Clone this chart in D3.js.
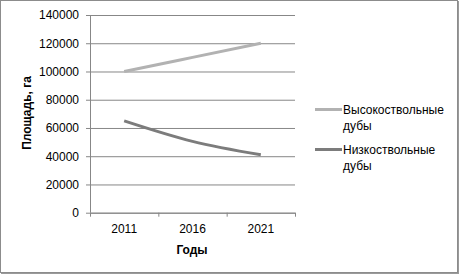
<!DOCTYPE html>
<html>
<head>
<meta charset="utf-8">
<script src="https://d3js.org/d3.v7.min.js"></script>
<style>
  body { margin: 0; background: #fff; }
  text { font-family: "Liberation Sans", Arial, sans-serif; }
</style>
</head>
<body>
<svg width="460" height="276"></svg>
<script>
// data
const years = ["2011", "2016", "2021"];
const highTrunk = [100000, 110000, 120000];
const lowTrunk = [65000, 50500, 41000];
const yTicks = [0, 20000, 40000, 60000, 80000, 100000, 120000, 140000];
const seriesNames = ["Высокоствольные дубы", "Низкоствольные дубы"];
const seriesColors = ["#b2b2b2", "#7c7c7c"];

const svg = d3.select("svg");

// outer border with a little shadow on right/bottom
svg.append("rect")
  .attr("x", 0.5).attr("y", 0.5)
  .attr("width", 457).attr("height", 272)
  .attr("fill", "#fff").attr("stroke", "#8c8c8c").attr("stroke-width", 1);
svg.append("line").attr("x1", 458.5).attr("x2", 458.5).attr("y1", 1).attr("y2", 274)
  .attr("stroke", "#9a9a9a");
svg.append("line").attr("x1", 1).attr("x2", 459).attr("y1", 273.5).attr("y2", 273.5)
  .attr("stroke", "#9a9a9a");

const plotL = 90, plotR = 295, plotT = 15, plotB = 212.7;

const x = d3.scaleBand().domain(years).range([plotL, plotR]).padding(0);
const y = d3.scaleLinear().domain([0, 140000]).range([plotB, plotT]);

// grid + y ticks
const gy = svg.append("g").attr("transform", "translate(" + plotL + ",0)")
  .call(d3.axisLeft(y).tickValues(yTicks).tickSize(-(plotR - plotL)).tickSizeOuter(0).tickPadding(8).tickFormat(d3.format("d")));
gy.select(".domain").remove();
gy.selectAll(".tick line").attr("stroke", "#878787").attr("x1", -4);
gy.selectAll(".tick text").attr("font-size", "12px").attr("fill", "#000")
  .attr("font-family", "Liberation Sans, Arial, sans-serif").attr("x", -11);

// y axis line
svg.append("line")
  .attr("x1", plotL + 0.5).attr("x2", plotL + 0.5)
  .attr("y1", plotT).attr("y2", plotB)
  .attr("stroke", "#878787");

// x axis
const gx = svg.append("g").attr("transform", "translate(0," + plotB + ")")
  .call(d3.axisBottom(x).tickSize(0).tickPadding(12));
gx.select(".domain").attr("stroke", "#878787");
gx.selectAll(".tick text").attr("font-size", "12px").attr("fill", "#000")
  .attr("font-family", "Liberation Sans, Arial, sans-serif");
// category boundary ticks
const bounds = years.map(d => x(d)).concat([x(years[years.length - 1]) + x.bandwidth()]);
svg.append("g").selectAll("line").data(bounds).join("line")
  .attr("x1", d => d + 0.5).attr("x2", d => d + 0.5)
  .attr("y1", plotB).attr("y2", plotB + 4)
  .attr("stroke", "#878787");

// lines
const cx = d => x(d) + x.bandwidth() / 2;
const lineGen = d3.line()
  .x((d, i) => cx(years[i]))
  .y(d => y(d))
  .curve(d3.curveMonotoneX);

[highTrunk, lowTrunk].forEach((vals, i) => {
  svg.append("path")
    .attr("d", lineGen(vals))
    .attr("fill", "none")
    .attr("stroke", seriesColors[i])
    .attr("stroke-width", 3)
    .attr("stroke-linecap", "butt");
});

// axis titles
svg.append("text")
  .attr("transform", "translate(31,113) rotate(-90)")
  .attr("text-anchor", "middle")
  .attr("font-size", "12px").attr("font-weight", "bold")
  .text("Площадь, га");

svg.append("text")
  .attr("x", 192).attr("y", 254)
  .attr("text-anchor", "middle")
  .attr("font-size", "12px").attr("font-weight", "bold")
  .text("Годы");

// legend
const legend = svg.append("g");
const legendY = [109.5, 149.5];
seriesNames.forEach((name, i) => {
  legend.append("line")
    .attr("x1", 315).attr("x2", 342)
    .attr("y1", legendY[i]).attr("y2", legendY[i])
    .attr("stroke", seriesColors[i]).attr("stroke-width", 3);
  const words = name.split(" ");
  const t = legend.append("text")
    .attr("x", 343).attr("y", legendY[i] + 4.5)
    .attr("font-size", "12px").attr("fill", "#000");
  t.append("tspan").attr("x", 343).text(words[0]);
  t.append("tspan").attr("x", 343).attr("dy", 16).text(words[1]);
});
</script>
</body>
</html>
